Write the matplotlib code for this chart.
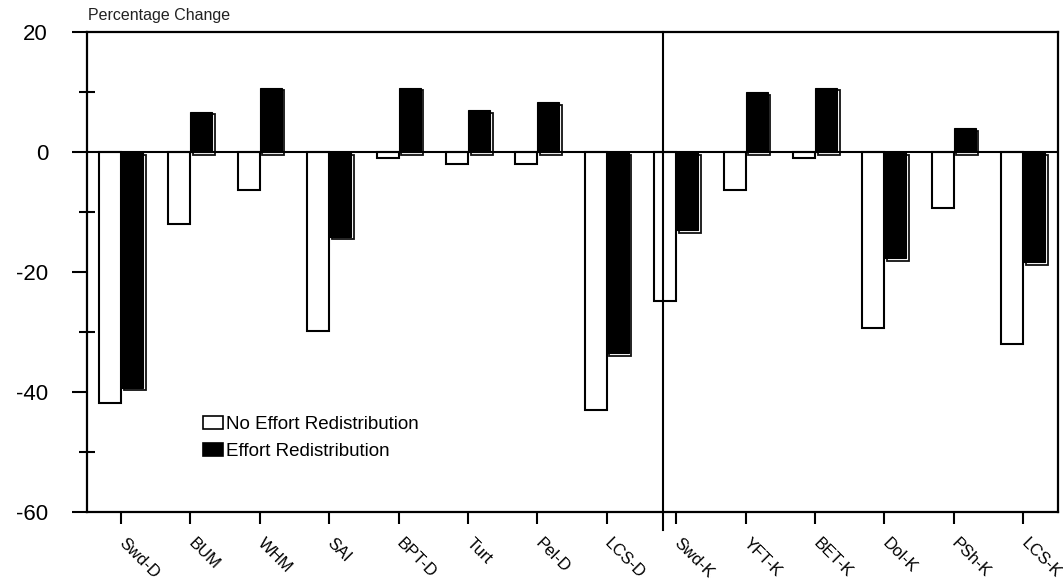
import matplotlib
matplotlib.use("Agg")
import matplotlib.pyplot as plt
import matplotlib.patheffects as pe
from matplotlib.patches import Patch
from matplotlib.transforms import ScaledTranslation
import numpy as np

categories = ["Swd-D", "BUM", "WHM", "SAI", "BPT-D", "Turt", "Pel-D", "LCS-D",
              "Swd-K", "YFT-K", "BET-K", "Dol-K", "PSh-K", "LCS-K"]
no_redistribution = [-41.8, -12.0, -6.3, -29.8, -1.0, -2.0, -2.0, -43.0,
                     -24.8, -6.4, -1.0, -29.4, -9.4, -32.0]
redistribution = [-39.3, 6.7, 10.7, -14.1, 10.7, 7.0, 8.3, -33.5,
                  -13.0, 10.0, 10.7, -17.7, 4.0, -18.4]
major_yticks = [20, 0, -20, -40, -60]
minor_yticks = [10, -10, -30, -50]
divider_pos = 7.81

plt.rcParams['font.family'] = ['Liberation Sans', 'DejaVu Sans']

fig = plt.figure(figsize=(10.63, 5.84), dpi=100)
ax = fig.add_axes([87/1063, 1-512/584, (1058-87)/1063, (512-32)/584])

x = np.arange(len(categories))
w = 0.317
ax.bar(x - w/2, no_redistribution, width=w, facecolor='white', edgecolor='black',
       linewidth=1.5, zorder=3)
bb = ax.bar(x + w/2, redistribution, width=w, facecolor='black', edgecolor='black',
            linewidth=0.8, zorder=3)
for b in bb:
    b.set_path_effects([pe.PathPatchEffect(offset=(1.8, -1.8), facecolor='none',
                                           edgecolor='#111111', linewidth=1.3),
                        pe.Normal()])

ax.axhline(0, color='black', linewidth=1.5, zorder=4)
ax.plot([divider_pos, divider_pos], [-63, 20], color='black', linewidth=1.5,
        clip_on=False, zorder=5)

ax.set_xlim(-0.49, 13.5)
ax.set_ylim(-60, 20)

for s in ax.spines.values():
    s.set_linewidth(1.6)

ax.set_yticks(major_yticks)
ax.set_yticks(minor_yticks, minor=True)
ax.set_yticklabels([str(v) for v in major_yticks], fontsize=16)
ax.tick_params(axis='y', which='major', direction='out', length=11, width=1.5, pad=17)
ax.tick_params(axis='y', which='minor', direction='inout', length=11.5, width=1.5)

ax.set_xticks(x)
ax.set_xticklabels(categories, fontsize=12, rotation=-45, ha='left', va='top')
ax.tick_params(axis='x', which='major', direction='out', length=8.6, width=1.5, pad=8)
off = ScaledTranslation(-5/100, 0, fig.dpi_scale_trans)
for lab in ax.get_xticklabels():
    lab.set_transform(lab.get_transform() + off)

fig.text(88/1063, 1-20/584, "Percentage Change", fontsize=11.5, ha='left',
         va='baseline', color='#222222')

handles = [Patch(facecolor='white', edgecolor='black', linewidth=1.2),
           Patch(facecolor='black', edgecolor='black', linewidth=1.2)]
ax.legend(handles, ["No Effort Redistribution", "Effort Redistribution"],
          loc='upper left', bbox_to_anchor=((203-87)/971, (512-416)/480),
          frameon=False, fontsize=13.5, borderpad=0, borderaxespad=0,
          handlelength=1.05, handleheight=0.7, handletextpad=0.2,
          labelspacing=0.5)

fig.savefig("out.png", dpi=100)
